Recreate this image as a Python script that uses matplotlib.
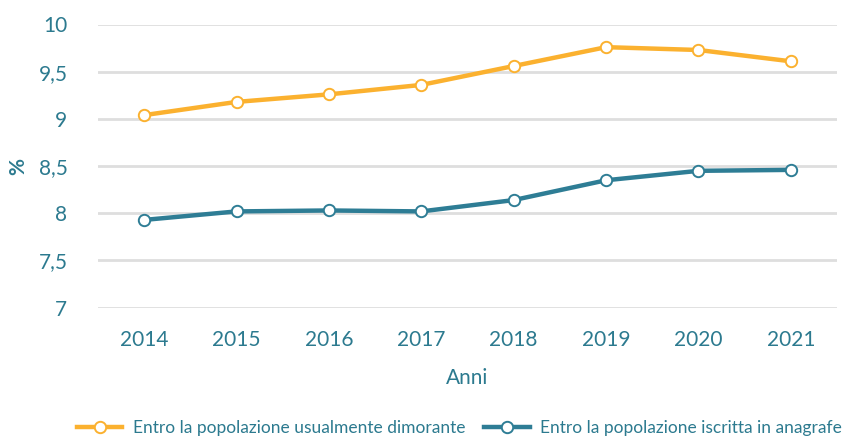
import matplotlib
matplotlib.use("Agg")
import matplotlib.pyplot as plt
from matplotlib.ticker import FuncFormatter

years = [2014, 2015, 2016, 2017, 2018, 2019, 2020, 2021]
dimorante = [9.04, 9.18, 9.26, 9.36, 9.56, 9.76, 9.73, 9.61]
anagrafe = [7.93, 8.02, 8.03, 8.02, 8.14, 8.35, 8.45, 8.46]
yticks = [7, 7.5, 8, 8.5, 9, 9.5, 10]
label_dim = "Entro la popolazione usualmente dimorante"
label_ana = "Entro la popolazione iscritta in anagrafe"

ORANGE = "#FBB12F"
TEAL = "#2E7D95"
TEXT = "#2C7A8F"
GRID = "#DEDEDE"

plt.rcParams['font.family'] = ['Lato', 'DejaVu Sans']

fig = plt.figure(figsize=(8.51, 4.37), dpi=100)
ax = fig.add_axes([98/851, 1-307.7/437, (837-98)/851, (307.7-24.5)/437])

for vals, col, lab in [(dimorante, ORANGE, label_dim), (anagrafe, TEAL, label_ana)]:
    ax.plot(years, vals, color=col, lw=3.2, marker='o', ms=8.2,
            mfc='white', mec=col, mew=1.4, label=lab, zorder=3, clip_on=False)

ax.set_xlim(2013.5, 2021.5)
ax.set_ylim(7, 10)
ax.set_yticks(yticks)
ax.yaxis.set_major_formatter(FuncFormatter(lambda v, p: (f"{v:g}").replace('.', ',')))
ax.set_xticks(years)
ax.grid(axis='y', color=GRID, lw=2)
ax.set_axisbelow(True)
for s in ax.spines.values():
    s.set_visible(False)
ax.tick_params(axis='both', length=0, labelsize=15, colors=TEXT)
ax.tick_params(axis='y', pad=22)
ax.tick_params(axis='x', pad=16)
ax.set_xlabel("Anni", fontsize=15, color=TEXT, labelpad=13)
ax.set_ylabel("%", fontsize=15, color=TEXT, labelpad=7, fontweight='bold')

leg = fig.legend(loc='center', bbox_to_anchor=(0.54, 1-428/437), ncol=2, frameon=False,
                 fontsize=12.5, handlelength=2.6, columnspacing=1.1, handletextpad=0.6,
                 labelcolor=TEXT)

fig.savefig("out.png", dpi=100)
